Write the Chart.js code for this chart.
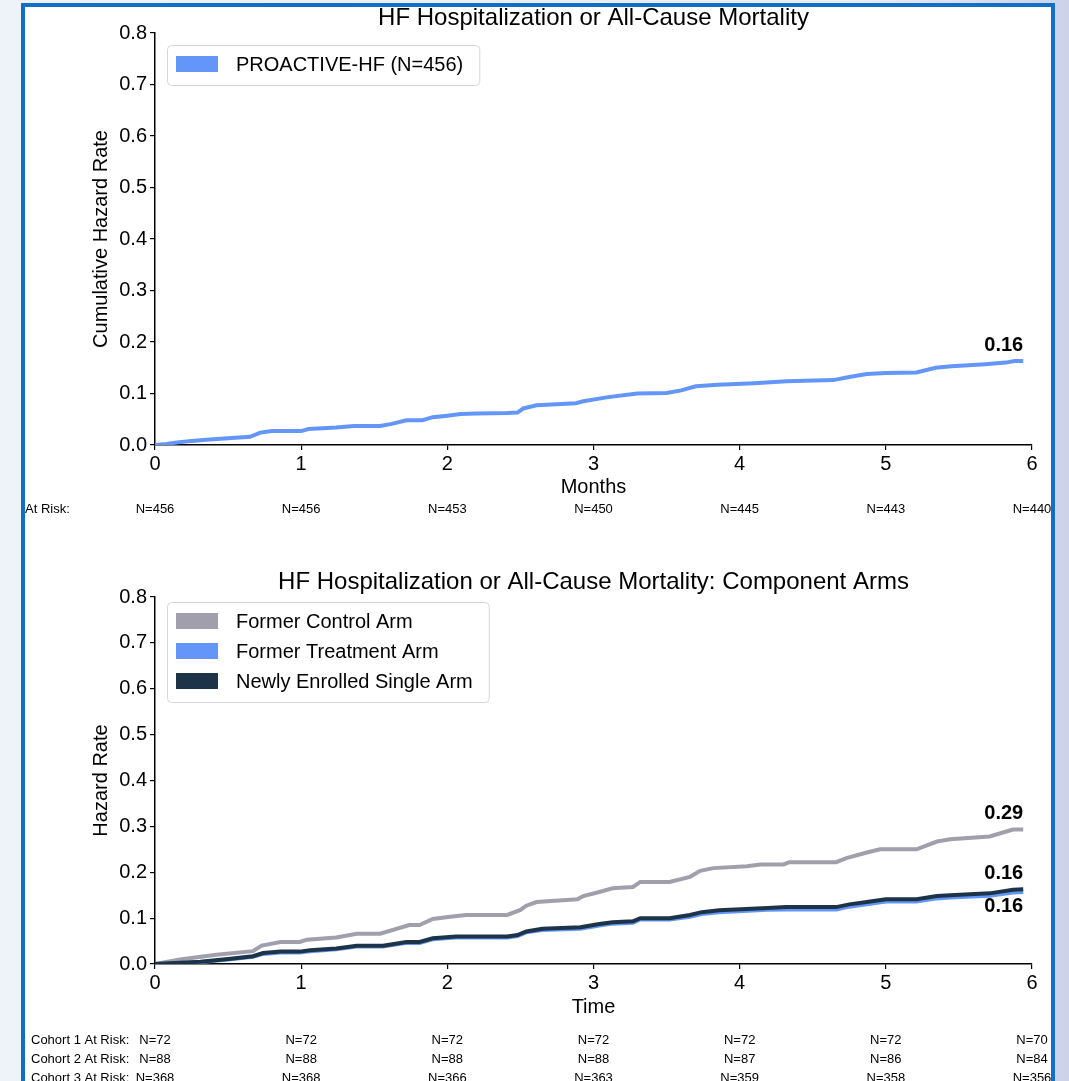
<!DOCTYPE html>
<html>
<head>
<meta charset="utf-8">
<script src="https://cdn.jsdelivr.net/npm/chart.js@4.4.1/dist/chart.umd.min.js"></script>
<style>
  html, body { margin: 0; padding: 0; width: 1069px; height: 1081px; overflow: hidden; }
  body {
    position: relative;
    background: linear-gradient(to right, #eef3f8 0%, #e8edf6 80%, #cbd2ea 100%);
  }
  #sheet { position: absolute; left: 21px; top: 3px; width: 1034px; height: 1120px; background: #fff; }
  #frame { position: absolute; left: 21px; top: 3px; width: 1026px; height: 1112px; border: 4px solid #1170c4; z-index: 5; }
  canvas { position: absolute; left: 0; z-index: 2; }
  #hazardTop { top: 0; }
  #hazardBottom { top: 530px; }
</style>
</head>
<body>
<div id="sheet"></div>
<canvas id="hazardTop" width="1069" height="530"></canvas>
<canvas id="hazardBottom" width="1069" height="551"></canvas>
<div id="frame"></div>
<script>
// ---- Data -----------------------------------------------------------------
const monthTicks = [0, 1, 2, 3, 4, 5, 6];
const hazardTicks = [0, 0.1, 0.2, 0.3, 0.4, 0.5, 0.6, 0.7, 0.8];

// Pooled PROACTIVE-HF cohort
const pooledMonths = [0, 0.08, 0.15, 0.25, 0.35, 0.45, 0.55, 0.65, 0.72, 0.8, 1.0, 1.05, 1.24, 1.36, 1.54, 1.62, 1.72, 1.83, 1.9, 2.0, 2.09, 2.2, 2.41, 2.48, 2.52, 2.61, 2.88, 2.93, 3.1, 3.3, 3.5, 3.6, 3.7, 3.85, 4.1, 4.32, 4.64, 4.75, 4.87, 5.0, 5.21, 5.34, 5.45, 5.68, 5.82, 5.88, 5.94];
const pooledHazard = [0, 0.002, 0.005, 0.008, 0.010, 0.012, 0.014, 0.016, 0.024, 0.027, 0.027, 0.031, 0.034, 0.037, 0.037, 0.041, 0.048, 0.048, 0.054, 0.057, 0.060, 0.061, 0.062, 0.063, 0.071, 0.077, 0.081, 0.085, 0.093, 0.100, 0.101, 0.106, 0.114, 0.117, 0.120, 0.124, 0.126, 0.132, 0.138, 0.140, 0.141, 0.150, 0.153, 0.157, 0.160, 0.163, 0.163];
const pooledAtRisk = [456, 456, 453, 450, 445, 443, 440];

// Component arms
const controlMonths = [0, 0.17, 0.42, 0.67, 0.73, 0.86, 0.99, 1.04, 1.24, 1.38, 1.54, 1.74, 1.81, 1.9, 2.02, 2.13, 2.41, 2.5, 2.54, 2.61, 2.89, 2.93, 3.04, 3.13, 3.27, 3.32, 3.52, 3.66, 3.73, 3.82, 4.05, 4.14, 4.30, 4.34, 4.66, 4.73, 4.87, 4.96, 5.21, 5.35, 5.44, 5.71, 5.87, 5.94];
const controlHazard = [0, 0.010, 0.020, 0.028, 0.040, 0.048, 0.048, 0.053, 0.058, 0.066, 0.066, 0.085, 0.085, 0.098, 0.103, 0.107, 0.107, 0.118, 0.127, 0.135, 0.141, 0.148, 0.157, 0.165, 0.168, 0.179, 0.179, 0.190, 0.203, 0.209, 0.213, 0.217, 0.217, 0.222, 0.222, 0.231, 0.243, 0.250, 0.250, 0.267, 0.272, 0.278, 0.293, 0.293];

const treatmentMonths = [0, 0.31, 0.5, 0.67, 0.74, 0.86, 0.99, 1.06, 1.24, 1.38, 1.56, 1.72, 1.81, 1.9, 2.06, 2.41, 2.48, 2.54, 2.65, 2.91, 3.04, 3.13, 3.27, 3.32, 3.52, 3.66, 3.74, 3.86, 4.19, 4.32, 4.66, 4.75, 4.87, 5.0, 5.21, 5.35, 5.44, 5.71, 5.87, 5.94];
const treatmentHazard = [0, 0.004, 0.010, 0.016, 0.022, 0.025, 0.025, 0.028, 0.032, 0.038, 0.038, 0.046, 0.046, 0.054, 0.058, 0.058, 0.061, 0.069, 0.074, 0.077, 0.084, 0.088, 0.090, 0.097, 0.097, 0.103, 0.109, 0.113, 0.118, 0.119, 0.119, 0.125, 0.130, 0.136, 0.136, 0.143, 0.145, 0.149, 0.156, 0.157];

const newlyMonths = [0, 0.31, 0.5, 0.67, 0.74, 0.86, 0.99, 1.06, 1.24, 1.38, 1.56, 1.72, 1.81, 1.9, 2.06, 2.41, 2.48, 2.54, 2.65, 2.91, 3.04, 3.13, 3.27, 3.32, 3.52, 3.66, 3.74, 3.86, 4.19, 4.32, 4.66, 4.75, 4.87, 5.0, 5.21, 5.35, 5.44, 5.71, 5.87, 5.94];
const newlyHazard = [0, 0.005, 0.011, 0.017, 0.024, 0.027, 0.027, 0.030, 0.034, 0.040, 0.040, 0.048, 0.048, 0.056, 0.060, 0.060, 0.063, 0.071, 0.077, 0.080, 0.087, 0.091, 0.093, 0.100, 0.100, 0.107, 0.113, 0.117, 0.122, 0.124, 0.124, 0.130, 0.135, 0.141, 0.141, 0.148, 0.150, 0.154, 0.162, 0.163];

const cohort1AtRisk = [72, 72, 72, 72, 72, 72, 70];
const cohort2AtRisk = [88, 88, 88, 88, 87, 86, 84];
const cohort3AtRisk = [368, 368, 366, 363, 359, 358, 356];

// ---- Styling --------------------------------------------------------------
const FONT = '"Liberation Sans", Arial, Helvetica, sans-serif';
const BLUE = '#6496fa';
const GREY = '#a09fab';
const NAVY = '#1d3448';

const toPoints = (xs, ys) => xs.map((x, i) => ({ x: x, y: ys[i] }));

// Title centred over the plot area
const plotTitle = {
  id: 'plotTitle',
  afterDraw(chart, args, opts) {
    const { ctx, chartArea } = chart;
    ctx.save();
    ctx.font = '24px ' + FONT;
    ctx.fillStyle = '#000';
    ctx.textAlign = 'center';
    ctx.textBaseline = 'middle';
    ctx.fillText(opts.text, (chartArea.left + chartArea.right) / 2, opts.y);
    ctx.restore();
  }
};

// Legend box in the upper-left corner of the plot
const boxLegend = {
  id: 'boxLegend',
  afterDraw(chart, args, opts) {
    const { ctx } = chart;
    const items = chart.data.datasets.filter(d => d.legendOrder !== undefined)
      .sort((a, b) => a.legendOrder - b.legendOrder);
    ctx.save();
    ctx.font = '20px ' + FONT;
    const textX = opts.left + 69;
    let maxW = 0;
    items.forEach(d => { maxW = Math.max(maxW, ctx.measureText(d.label).width); });
    const top = opts.firstRow - 19;
    const bottom = opts.firstRow + (items.length - 1) * opts.rowGap + 21;
    const right = textX + maxW + 16;
    ctx.beginPath();
    ctx.roundRect(opts.left + 0.5, top + 0.5, right - opts.left, bottom - top, 4);
    ctx.fillStyle = 'rgba(255,255,255,0.85)';
    ctx.fill();
    ctx.strokeStyle = '#d6d6d6';
    ctx.lineWidth = 1;
    ctx.stroke();
    items.forEach((d, i) => {
      const cy = opts.firstRow + i * opts.rowGap;
      ctx.fillStyle = d.borderColor;
      ctx.fillRect(opts.left + 9, cy - 8, 42, 16);
      ctx.fillStyle = '#000';
      ctx.textAlign = 'left';
      ctx.textBaseline = 'middle';
      ctx.fillText(d.label, textX, cy + 1);
    });
    ctx.restore();
  }
};

// Final cumulative value printed at the end of each curve
const endValues = {
  id: 'endValues',
  afterDatasetsDraw(chart) {
    const { ctx } = chart;
    chart.data.datasets.forEach((d, i) => {
      if (!d.endLabel) return;
      const meta = chart.getDatasetMeta(i);
      const last = meta.data[meta.data.length - 1];
      const value = d.data[d.data.length - 1].y;
      ctx.save();
      ctx.font = 'bold 20px ' + FONT;
      ctx.fillStyle = '#000';
      ctx.textAlign = 'right';
      ctx.textBaseline = 'middle';
      ctx.fillText(value.toFixed(2), last.x, last.y + (d.endLabel === 'below' ? 15 : -16));
      ctx.restore();
    });
  }
};

// Numbers at risk printed under each month tick
const riskTable = {
  id: 'riskTable',
  afterDraw(chart, args, opts) {
    const { ctx } = chart;
    const xs = chart.scales.x;
    ctx.save();
    ctx.font = '13px ' + FONT;
    ctx.fillStyle = '#000';
    ctx.textBaseline = 'middle';
    opts.rows.forEach(r => {
      ctx.textAlign = 'left';
      ctx.fillText(r.title, r.titleX, r.y);
      ctx.textAlign = 'center';
      r.values.forEach((v, j) => ctx.fillText('N=' + v, xs.getPixelForValue(monthTicks[j]), r.y));
    });
    ctx.restore();
  }
};

function axes(xTitle, yTitle, canvasH, plotBottom, xTitleGap) {
  const tickFont = { family: FONT, size: 20 };
  return {
    x: {
      type: 'linear', min: 0, max: 6,
      afterBuildTicks: s => { s.ticks = monthTicks.map(v => ({ value: v })); },
      ticks: { font: tickFont, color: '#000', padding: 2, maxRotation: 0, callback: v => String(v) },
      grid: { drawOnChartArea: false, drawTicks: true, tickLength: 5, color: '#000', lineWidth: 1.2 },
      border: { display: true, color: '#000', width: 1.5 },
      title: { display: true, text: xTitle, font: tickFont, color: '#000', padding: { top: 0, bottom: xTitleGap } },
      afterFit: s => { s.height = canvasH - plotBottom; }
    },
    y: {
      min: 0, max: 0.8,
      afterBuildTicks: s => { s.ticks = hazardTicks.map(v => ({ value: v })); },
      ticks: { font: tickFont, color: '#000', padding: 3, callback: v => Number(v).toFixed(1) },
      grid: { drawOnChartArea: false, drawTicks: true, tickLength: 5, color: '#000', lineWidth: 1.2 },
      border: { display: true, color: '#000', width: 1.5 },
      title: { display: true, text: yTitle, font: tickFont, color: '#000', padding: { top: 89, bottom: 0 } },
      afterFit: s => { s.width = 155; }
    }
  };
}

function curve(label, xs, ys, color, order, legendOrder, endLabel) {
  return {
    label: label,
    data: toPoints(xs, ys),
    borderColor: color,
    backgroundColor: color,
    borderWidth: 4,
    pointRadius: 0,
    tension: 0,
    fill: false,
    order: order,
    legendOrder: legendOrder,
    endLabel: endLabel
  };
}

Chart.defaults.font.family = FONT;

new Chart(document.getElementById('hazardTop'), {
  type: 'line',
  data: {
    datasets: [curve('PROACTIVE-HF (N=456)', pooledMonths, pooledHazard, BLUE, 0, 0, 'above')]
  },
  options: {
    responsive: false,
    animation: false,
    layout: { padding: { left: 0, top: 33, right: 37, bottom: 0 } },
    scales: axes('Months', 'Cumulative Hazard Rate', 530, 445, 31),
    plugins: {
      legend: { display: false },
      tooltip: { enabled: false },
      plotTitle: { text: 'HF Hospitalization or All-Cause Mortality', y: 18 },
      boxLegend: { left: 167, firstRow: 64, rowGap: 30 },
      riskTable: { rows: [{ title: 'At Risk:', titleX: 25, y: 509, values: pooledAtRisk }] }
    }
  },
  plugins: [plotTitle, boxLegend, endValues, riskTable]
});

new Chart(document.getElementById('hazardBottom'), {
  type: 'line',
  data: {
    datasets: [
      curve('Former Control Arm', controlMonths, controlHazard, GREY, 2, 0, 'above'),
      curve('Former Treatment Arm', treatmentMonths, treatmentHazard, BLUE, 1, 1, 'below'),
      curve('Newly Enrolled Single Arm', newlyMonths, newlyHazard, NAVY, 0, 2, 'above')
    ]
  },
  options: {
    responsive: false,
    animation: false,
    layout: { padding: { left: 0, top: 67, right: 37, bottom: 0 } },
    scales: axes('Time', 'Hazard Rate', 551, 434, 62),
    plugins: {
      legend: { display: false },
      tooltip: { enabled: false },
      plotTitle: { text: 'HF Hospitalization or All-Cause Mortality: Component Arms', y: 52 },
      boxLegend: { left: 167, firstRow: 91, rowGap: 30 },
      riskTable: {
        rows: [
          { title: 'Cohort 1 At Risk:', titleX: 31, y: 510, values: cohort1AtRisk },
          { title: 'Cohort 2 At Risk:', titleX: 31, y: 529, values: cohort2AtRisk },
          { title: 'Cohort 3 At Risk:', titleX: 31, y: 548, values: cohort3AtRisk }
        ]
      }
    }
  },
  plugins: [plotTitle, boxLegend, endValues, riskTable]
});
</script>
</body>
</html>
